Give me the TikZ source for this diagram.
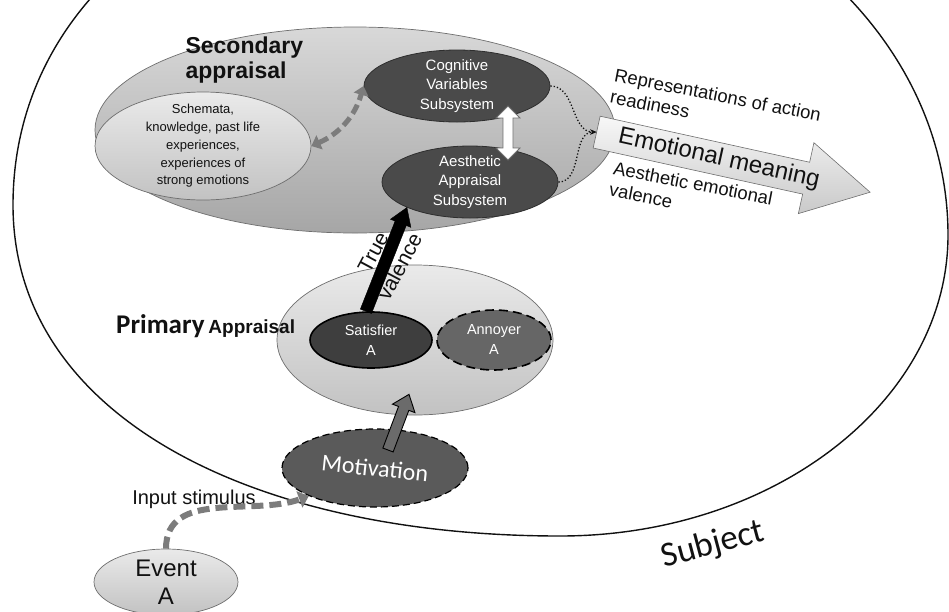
\documentclass[tikz,border=0pt]{standalone}
\usepackage{fontspec}
\setmainfont{Liberation Sans}
\newfontfamily\calfont{Carlito}
\usetikzlibrary{arrows.meta,positioning,calc,shapes.geometric,shapes.arrows}
\definecolor{ink}{HTML}{111111}
\definecolor{discfill}{HTML}{4A4A4A}
\definecolor{discdraw}{HTML}{2E2E2E}
\definecolor{satfill}{HTML}{3E3E3E}
\definecolor{annfill}{HTML}{666666}
\definecolor{motfill}{HTML}{5A5A5A}
\definecolor{dashgrey}{HTML}{7C7C7C}
\definecolor{pushgrey}{HTML}{6B6B6B}
\definecolor{lightA}{HTML}{EAEAEA}
\definecolor{lightB}{HTML}{C2C2C2}
\definecolor{secA}{HTML}{D8D8D8}
\definecolor{secB}{HTML}{A6A6A6}
\definecolor{rim}{HTML}{6E6E6E}
\tikzset{
  every node/.style={text=ink, font=\fontsize{14}{18}\selectfont},
  disc/.style={ellipse, inner sep=0pt},
  lightdisc/.style={disc, draw=rim, line width=0.7pt, top color=lightA, bottom color=lightB},
  darkdisc/.style={disc, draw=discdraw, line width=0.8pt, fill=discfill},
  inlabel/.style={align=center, text=white, font=\fontsize{15}{19.5}\selectfont},
  schemtext/.style={align=center, font=\fontsize{13}{17.7}\selectfont},
  title/.style={align=left, font=\bfseries\fontsize{23}{25}\selectfont},
  side/.style={align=left, inner sep=0pt, font=\fontsize{18.5}{22}\selectfont},
  mottext/.style={text=white, font=\calfont\fontsize{24}{24}\selectfont},
  evtext/.style={align=center, font=\fontsize{24}{28}\selectfont},
  subjtext/.style={font=\calfont\fontsize{35}{35}\selectfont},
  bigarrow/.style={single arrow, draw=rim, line width=0.6pt, top color=gray!6, bottom color=gray!42,
    single arrow tip angle=58, single arrow head extend=20pt, minimum height=280pt,
    text height=17pt, text depth=5pt, inner xsep=4pt, inner ysep=5pt, font=\fontsize{24}{24}\selectfont},
  recall/.style={dashgrey, line width=5pt, dash pattern=on 10pt off 5pt,
    {Triangle[length=9pt,width=15pt]}-{Triangle[length=9pt,width=15pt]}},
  stimarr/.style={dashgrey, line width=6pt, dash pattern=on 12pt off 6pt, -{Triangle[length=10pt,width=17pt]}},
  dotlink/.style={ink, line width=1.3pt, dotted, -{Stealth[length=6pt,width=5pt]}},
  linkarrow/.style={draw=rim, line width=0.8pt, fill=white},
  valarrow/.style={draw=black, fill=black},
  pusharrow/.style={draw=black, line width=0.9pt, fill=pushgrey},
}
\newcommand{\blockarrow}[7]{% #1 name, #2 style, #3 from, #4 to, #5 shaft half, #6 head half, #7 head length
  \coordinate (#1h) at ($(#4)!#7!(#3)$);
  \draw[#2] ($(#3)!#5!90:(#4)$) -- ($(#1h)!#5!-90:(#3)$) -- ($(#1h)!#6!-90:(#3)$) -- (#4)
    -- ($(#1h)!#6!90:(#3)$) -- ($(#1h)!#5!90:(#3)$) -- ($(#3)!#5!-90:(#4)$) -- cycle;
}
\newcommand{\dblblockarrow}[7]{% #1 name, #2 style, #3 from, #4 to, #5 shaft half, #6 head half, #7 head length
  \coordinate (#1a) at ($(#3)!#7!(#4)$);
  \coordinate (#1b) at ($(#4)!#7!(#3)$);
  \draw[#2] (#3) -- ($(#1a)!#6!90:(#4)$) -- ($(#1a)!#5!90:(#4)$) -- ($(#1b)!#5!-90:(#3)$) -- ($(#1b)!#6!-90:(#3)$)
    -- (#4) -- ($(#1b)!#6!90:(#3)$) -- ($(#1b)!#5!90:(#3)$) -- ($(#1a)!#5!-90:(#4)$) -- ($(#1a)!#6!-90:(#4)$) -- cycle;
}
\begin{document}
\begin{tikzpicture}[x=1pt, y=-1pt]
  \useasboundingbox (0,0) rectangle (949,611);
  \clip (0,0) rectangle (949,611);

  % the subject
  \draw[ink, line width=1.4pt] (13,205) .. controls (13,415) and (250,536) .. (560,536)
    .. controls (774,536) and (948,401) .. (948,235)
    .. controls (948,22) and (738,-150) .. (480,-150)
    .. controls (200,-150) and (13,0) .. (13,205) -- cycle;
  \node[subjtext, rotate=15] (subjlbl) at (713,545) {Subject};

  % secondary appraisal
  \node[lightdisc, top color=secA, bottom color=secB, minimum width=520pt, minimum height=206pt] (sec) at (355,130) {};
  \node[title, anchor=west] (sectitle) at (182,60) {Secondary\\appraisal};
  \node[lightdisc, minimum width=216pt, minimum height=108pt,
    label={[schemtext]center:{Schemata,\\knowledge, past life\\experiences,\\experiences of\\strong emotions}}] (schem) at (203,146) {};
  \node[darkdisc, minimum width=186pt, minimum height=72pt,
    label={[inlabel]center:{Cognitive\\Variables\\Subsystem}}] (cog) at (457,86) {};
  \node[darkdisc, minimum width=176pt, minimum height=72pt,
    label={[inlabel]center:{Aesthetic\\Appraisal\\Subsystem}}] (aes) at (470,182) {};
  \draw[recall] (schem.east) to[bend right=25] (cog.west);
  \coordinate (cvtop) at ($(cog.center)+(51,20)$);
  \coordinate (cvbot) at ($(aes.center)+(38,-22)$);
  \dblblockarrow{cv}{linkarrow}{cvtop}{cvbot}{5pt}{12pt}{12pt}

  % output
  \node[bigarrow, rotate=-12.4] (emo) at (719,159) {Emotional meaning};
  \draw[dotlink] (cog.east) to[out=0, in=180] (emo.tail);
  \draw[dotlink] (aes.east) to[out=0, in=180] (emo.tail);
  \node[side, rotate=-11, anchor=north west] (ready) at (616,68) {Representations of action\\readiness};
  \node[side, rotate=-11, anchor=north west] (valtxt) at (615,161) {Aesthetic emotional\\valence};

  % primary appraisal
  \node[lightdisc, minimum width=276pt, minimum height=150pt] (prim) at (415,340) {};
  \node[anchor=base west, inner sep=0pt] (primtitle) at (116,333)
    {{\calfont\bfseries\fontsize{27}{27}\selectfont Primary} {\bfseries\fontsize{19}{19}\selectfont Appraisal}};
  \node[darkdisc, fill=satfill, draw=black, line width=1.6pt, minimum width=122pt, minimum height=56pt,
    label={[inlabel, font=\fontsize{14.5}{20}\selectfont]center:{Satisfier\\A}}] (sat) at (371,340) {};
  \node[darkdisc, fill=annfill, draw=black, dash pattern=on 9pt off 5pt, line width=1.6pt, minimum width=114pt, minimum height=60pt,
    label={[inlabel, font=\fontsize{14.5}{20}\selectfont]center:{Annoyer\\A}}] (ann) at (494,340) {};
  \blockarrow{tv}{valarrow}{sat.100}{aes.202}{6pt}{11pt}{17pt}
  \node[align=center, rotate=62, font=\fontsize{21}{30}\selectfont] (tvtxt) at ($(sat.100)!0.5!(aes.202)$) {True\\valence};

  % motivation and input
  \node[darkdisc, fill=motfill, draw=black, dash pattern=on 7pt off 4pt, line width=1.2pt, minimum width=186pt, minimum height=78pt,
    label={[mottext, rotate=-6]center:{Motivation}}] (mot) at (375,468) {};
  \coordinate (motout) at ($(mot.center)+(13,-18)$);
  \coordinate (primin) at ($(prim.south)+(-6,-21)$);
  \blockarrow{mp}{pusharrow}{motout}{primin}{5.5pt}{12pt}{15pt}
  \node[lightdisc, minimum width=144pt, minimum height=66pt,
    label={[evtext]center:{Event\\A}}] (event) at (166,582) {};
  \node[font=\fontsize{20}{20}\selectfont] (stimtxt) at (194,499) {Input stimulus};
  \draw[stimarr] (event.north) to[out=90, in=200] (mot.south west);
\end{tikzpicture}
\end{document}
